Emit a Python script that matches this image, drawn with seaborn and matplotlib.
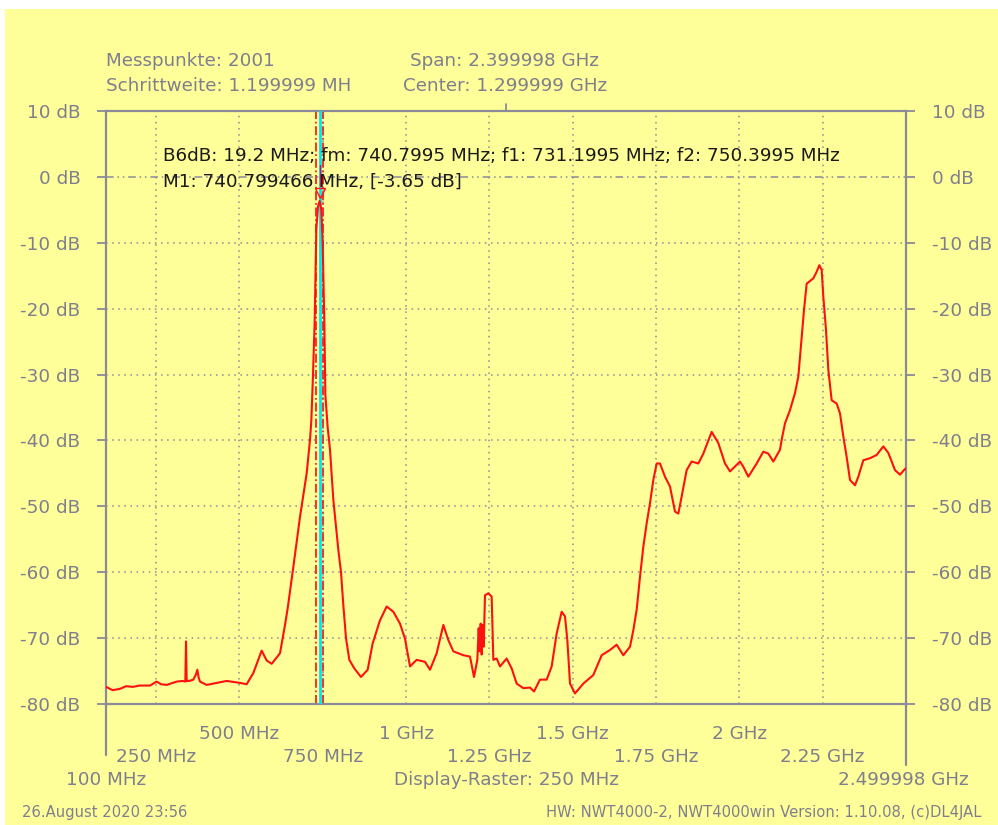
import matplotlib
matplotlib.use("Agg")
import matplotlib.pyplot as plt
import matplotlib.transforms as mtransforms
import seaborn as sns
import pandas as pd

# ---------------- data ----------------
freq_mhz = [100, 120, 142, 160, 181, 200, 232, 245, 252, 265, 282, 300, 312, 330, 338, 340, 342,
            350, 362, 370, 374, 378, 382, 402, 432, 462, 502, 522, 542, 567, 582, 597, 622, 637,
            645, 662, 682, 702, 712, 716, 721, 726, 731, 736, 741, 746, 750, 755, 758, 765, 772,
            782, 797, 805, 812, 820, 830, 845, 865, 885, 900, 922, 942, 962, 982, 997, 1012, 1032,
            1057, 1072, 1092, 1112, 1127, 1142, 1172, 1192, 1204, 1214, 1218, 1221, 1224, 1227,
            1230, 1233, 1237, 1247, 1257, 1262, 1272, 1282, 1302, 1317, 1332, 1352, 1372, 1384,
            1402, 1422, 1437, 1452, 1467, 1477, 1484, 1492, 1507, 1532, 1562, 1587, 1612, 1632,
            1652, 1672, 1682, 1692, 1702, 1712, 1722, 1732, 1742, 1752, 1762, 1777, 1792, 1807,
            1817, 1827, 1842, 1857, 1877, 1892, 1917, 1937, 1957, 1972, 2002, 2012, 2027, 2052,
            2072, 2087, 2102, 2122, 2127, 2137, 2152, 2167, 2177, 2187, 2194, 2202, 2222, 2232,
            2240, 2247, 2252, 2260, 2267, 2277, 2292, 2302, 2312, 2322, 2332, 2347, 2357, 2372,
            2392, 2412, 2432, 2447, 2467, 2482, 2494, 2500]
level_db = [-77.4, -77.9, -77.7, -77.3, -77.4, -77.2, -77.2, -76.8, -76.6, -77.0, -77.1, -76.8,
            -76.6, -76.5, -76.6, -70.5, -76.5, -76.5, -76.3, -75.5, -74.8, -76.0, -76.6, -77.1,
            -76.8, -76.5, -76.8, -77.0, -75.3, -71.9, -73.4, -73.9, -72.3, -68.0, -65.5, -59.2,
            -51.6, -45.0, -39.9, -37.0, -30.0, -22.0, -8.0, -4.5, -3.65, -5.0, -10.0, -22.0,
            -33.0, -38.0, -41.4, -49.0, -56.6, -60.0, -65.0, -70.0, -73.3, -74.6, -75.9, -74.8,
            -70.8, -67.3, -65.2, -66.0, -67.8, -70.1, -74.3, -73.3, -73.6, -74.8, -72.3, -68.0,
            -70.3, -72.0, -72.6, -72.8, -75.9, -73.3, -68.5, -72.0, -67.8, -72.5, -68.0, -71.3,
            -63.5, -63.2, -63.7, -73.3, -73.1, -74.3, -73.1, -74.6, -76.9, -77.6, -77.5, -78.1,
            -76.3, -76.3, -74.3, -69.3, -66.0, -66.7, -70.3, -76.9, -78.4, -76.9, -75.6, -72.6,
            -71.8, -71.0, -72.6, -71.3, -68.8, -65.7, -60.7, -56.1, -52.6, -49.5, -46.0, -43.5,
            -43.5, -45.5, -47.0, -50.8, -51.1, -48.5, -44.5, -43.2, -43.5, -42.0, -38.7, -40.4,
            -43.5, -44.7, -43.2, -44.0, -45.5, -43.5, -41.7, -42.0, -43.2, -41.4, -39.9, -37.4,
            -35.4, -32.8, -30.3, -24.3, -20.2, -16.2, -15.4, -14.4, -13.4, -14.1, -18.2, -23.2,
            -29.3, -33.9, -34.4, -35.9, -39.4, -42.5, -46.0, -46.8, -45.5, -43.0, -42.7, -42.2,
            -40.9, -41.9, -44.5, -45.2, -44.5, -44.2]

f_start, f_stop = 100.0, 2499.998
db_min, db_max = -80, 10
db_ticks = [10, 0, -10, -20, -30, -40, -50, -60, -70, -80]
long_ticks = [250, 750, 1250, 1750, 2250]
long_labels = ["250 MHz", "750 MHz", "1.25 GHz", "1.75 GHz", "2.25 GHz"]
short_ticks = [500, 1000, 1500, 2000]
short_labels = ["500 MHz", "1 GHz", "1.5 GHz", "2 GHz"]
center_mhz = 1300.0
fm, f1, f2 = 740.7995, 731.1995, 750.3995
m1_f, m1_db = 740.799466, -3.65

header_left = ["Messpunkte: 2001", "Schrittweite: 1.199999 MH"]
header_right = ["Span: 2.399998 GHz", "Center: 1.299999 GHz"]
info_lines = ["B6dB: 19.2 MHz; fm: 740.7995 MHz; f1: 731.1995 MHz; f2: 750.3995 MHz",
              "M1: 740.799466 MHz, [-3.65 dB]"]

# ---------------- style ----------------
W, H = 998, 825
BG = "#FFFF99"
GRAY = "#7e7e8e"
AX = "#8a8a9a"
FONT = "DejaVu Sans"

sns.set_theme(style="white")
plt.rcParams["font.family"] = [FONT]

fig = plt.figure(figsize=(W / 100, H / 100), dpi=100, facecolor="white")
fig.patches.append(plt.Rectangle((5 / W, 0), 1 - 5 / W, 1 - 9 / H, transform=fig.transFigure,
                                 facecolor=BG, edgecolor="none", zorder=-10))

def fx(px):
    return px / W

def fy(py):
    return 1 - py / H

L, R, T, B = 106, 906, 111, 704
ax = fig.add_axes([fx(L), fy(B), fx(R) - fx(L), fy(T) - fy(B)])
ax.set_facecolor(BG)

df = pd.DataFrame({"f": freq_mhz, "db": level_db})

# grid
for x in long_ticks + short_ticks:
    ax.axvline(x, color=AX, lw=1.1, linestyle=(0, (1, 3)), zorder=1)
for y in db_ticks[1:-1]:
    if y == 0:
        ax.axhline(y, color=AX, lw=1.1, linestyle=(0, (5, 2.5, 1, 2.5, 1, 2.5)), zorder=1)
    else:
        ax.axhline(y, color=AX, lw=1.1, linestyle=(0, (1, 3)), zorder=1)

# marker lines
ax.axvline(f1, color="#ff2020", lw=1.3, linestyle=(0, (5, 1.5, 1, 1.5)), zorder=2)
ax.axvline(f2, color="#ff2020", lw=1.3, linestyle=(0, (5, 1.5, 1, 1.5)), zorder=2)
ax.axvline(fm, color="#00e8e8", lw=2.0, zorder=3)

sns.lineplot(data=df, x="f", y="db", ax=ax, color="#ff1010", lw=1.5, sort=False,
             estimator=None, zorder=4)

ax.plot([m1_f], [m1_db + 1.2], marker="v", markersize=7, markerfacecolor="none",
        markeredgecolor="#ff1010", markeredgewidth=1.0, zorder=5)
ax.plot([m1_f, m1_f], [m1_db + 2.2, m1_db + 5.5], color="#cc1060", lw=1.0, zorder=5)

ax.set_xlim(f_start, f_stop)
ax.set_ylim(db_min, db_max)
ax.set_xlabel("")
ax.set_ylabel("")

for s in ax.spines.values():
    s.set_color(AX)
    s.set_linewidth(1.6)

fs = 13.2
fs_small = 10.6

# y ticks both sides
ax.set_yticks(db_ticks)
ax.set_yticklabels([f"{v} dB" for v in db_ticks])
ax.tick_params(axis="y", which="both", left=True, right=True, labelleft=True, labelright=True,
               direction="out", length=6.5, width=1.3, color=AX, labelcolor=GRAY,
               labelsize=fs, pad=12)

# x ticks: long (major) and short (minor)
ax.set_xticks(long_ticks)
ax.set_xticklabels(long_labels)
ax.set_xticks(short_ticks, minor=True)
ax.set_xticklabels(short_labels, minor=True)
ax.tick_params(axis="x", which="major", direction="out", length=24.5, width=1.5, color=AX,
               labelcolor=GRAY, labelsize=fs, pad=7.0)
ax.tick_params(axis="x", which="minor", direction="out", length=5.8, width=1.5, color=AX,
               labelcolor=GRAY, labelsize=fs, pad=9.0)
ax.grid(False)

# axis extensions below plot and center tick on top
ext = (755 - B) / (B - T)
ax.plot([0, 0], [0, -ext], transform=ax.transAxes, color=AX, lw=1.6, clip_on=False)
ax.plot([1, 1], [0, -ext - 10 / (B - T)], transform=ax.transAxes, color=AX, lw=1.6, clip_on=False)
trans = mtransforms.blended_transform_factory(ax.transData, ax.transAxes)
ax.plot([center_mhz, center_mhz], [1, 1 + 7 / (B - T)], transform=trans, color=AX, lw=1.3,
        clip_on=False)

# texts
fig.text(fx(106), fy(61), header_left[0], color=GRAY, fontsize=fs, va="center", ha="left")
fig.text(fx(106), fy(86), header_left[1], color=GRAY, fontsize=fs, va="center", ha="left")
fig.text(fx(410), fy(61), header_right[0], color=GRAY, fontsize=fs, va="center", ha="left")
fig.text(fx(403), fy(86), header_right[1], color=GRAY, fontsize=fs, va="center", ha="left")
fig.text(fx(163), fy(156), info_lines[0], color="#1a1a1a", fontsize=fs, va="center", ha="left")
fig.text(fx(163), fy(182), info_lines[1], color="#1a1a1a", fontsize=fs, va="center", ha="left")
fig.text(fx(106), fy(780), "100 MHz", color=GRAY, fontsize=fs, va="center", ha="center")
fig.text(fx(506), fy(780), "Display-Raster: 250 MHz", color=GRAY, fontsize=fs, va="center", ha="center")
fig.text(fx(903), fy(780), "2.499998 GHz", color=GRAY, fontsize=fs, va="center", ha="center")
fig.text(fx(22), fy(812), "26.August 2020 23:56", color=GRAY, fontsize=fs_small, va="center", ha="left")
fig.text(fx(981), fy(812), "HW: NWT4000-2, NWT4000win Version: 1.10.08, (c)DL4JAL", color=GRAY,
         fontsize=fs_small, va="center", ha="right")

fig.savefig("out.png", dpi=100, facecolor="white")
